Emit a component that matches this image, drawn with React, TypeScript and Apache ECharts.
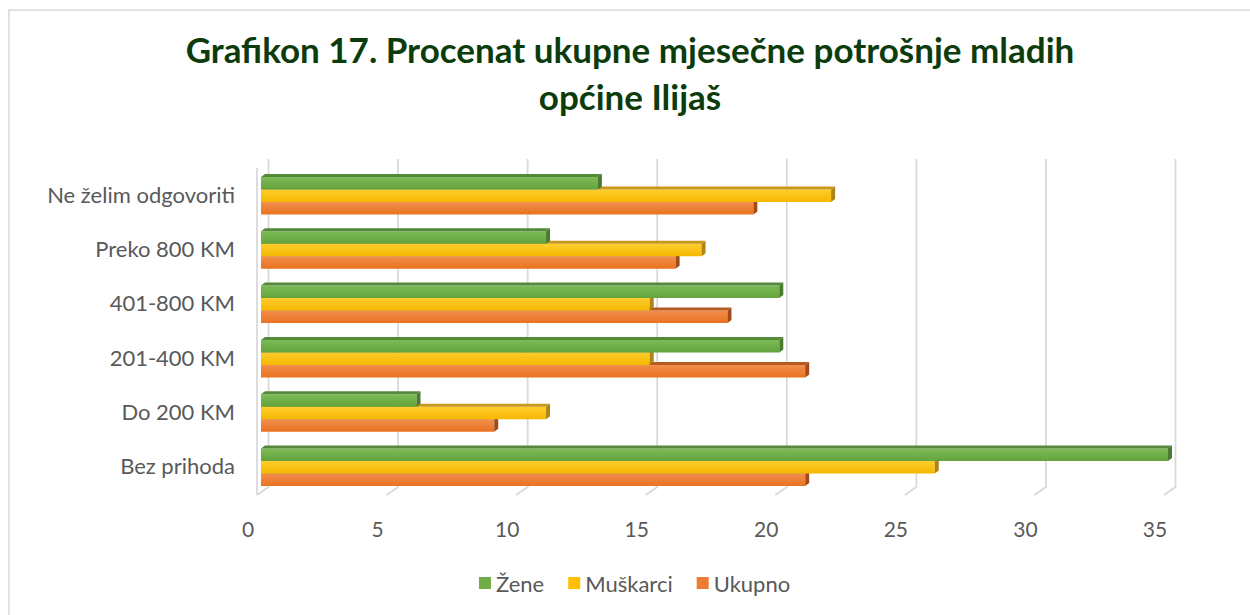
import React, { useEffect, useRef } from "react";
import * as echarts from "echarts";

const categories = ["Bez prihoda", "Do 200 KM", "201-400 KM", "401-800 KM", "Preko 800 KM", "Ne želim odgovoriti"];
const zene = [35, 6, 20, 20, 11, 13];
const muskarci = [26, 11, 15, 15, 17, 22];
const ukupno = [21, 9, 21, 18, 16, 19];
const xTicks = [0, 5, 10, 15, 20, 25, 30, 35];
const seriesNames = ["Žene", "Muškarci", "Ukupno"];

const FONT = "Lato, 'Open Sans', sans-serif";
const BW = 12.5;
const DX = 4;
const DY = 3;

type Palette = { top: string; bottom: string; cap: string; side: string; base: string };
const palettes: Palette[] = [
  { top: "#7dbb57", bottom: "#64a23c", cap: "#55893a", side: "#4b7b30", base: "#70ad47" },
  { top: "#ffcd2e", bottom: "#f5b800", cap: "#c8981c", side: "#ae8414", base: "#ffc000" },
  { top: "#f28e4e", bottom: "#e8731f", cap: "#b65a20", side: "#a04c18", base: "#ed7d31" },
];

function makeBarSeries(name: string, values: number[], idx: number, offset: number) {
  const p = palettes[idx];
  return {
    type: "custom",
    name,
    z: 3,
    itemStyle: { color: p.base },
    data: values.map((v, i) => [v, i]),
    encode: { x: 0, y: 1 },
    renderItem: (params: any, api: any) => {
      const v = api.value(0);
      const cat = api.value(1);
      const start = api.coord([0, cat]);
      const end = api.coord([v, cat]);
      const x0 = start[0];
      const x1 = end[0];
      const yTop = start[1] + offset * BW - BW / 2 + 1.5;
      return {
        type: "group",
        children: [
          {
            type: "rect",
            shape: { x: x0, y: yTop, width: x1 - x0, height: BW },
            style: {
              fill: new echarts.graphic.LinearGradient(0, 0, 0, 1, [
                { offset: 0, color: p.top },
                { offset: 1, color: p.bottom },
              ]),
            },
          },
          {
            type: "polygon",
            shape: { points: [[x0, yTop], [x1, yTop], [x1 + DX, yTop - DY], [x0 + DX, yTop - DY]] },
            style: { fill: p.cap },
          },
          {
            type: "polygon",
            shape: { points: [[x1, yTop], [x1 + DX, yTop - DY], [x1 + DX, yTop + BW - DY], [x1, yTop + BW]] },
            style: { fill: p.side },
          },
        ],
      };
    },
  };
}

export default function App() {
  const ref = useRef<HTMLDivElement>(null);
  useEffect(() => {
    if (!ref.current) return;
    const chart = echarts.init(ref.current, null, { renderer: "svg" });
    const gridSeries = {
      type: "custom",
      name: "grid",
      z: 1,
      silent: true,
      data: xTicks.map((t) => [t, 0]),
      encode: { x: 0, y: 1 },
      renderItem: (params: any, api: any) => {
        const cs = params.coordSys;
        const x = api.coord([api.value(0), 0])[0];
        const topY = cs.y - 8;
        const backBottom = cs.y + cs.height - 6;
        const frontBottom = cs.y + cs.height + 2;
        const children: any[] = [
          {
            type: "polyline",
            shape: { points: [[x + 7.5, topY], [x + 7.5, backBottom], [x - 4, frontBottom]] },
            style: { stroke: "#d9d9d9", lineWidth: 1.75, fill: "none" },
          },
        ];
        if (api.value(0) === 0) {
          children.push({
            type: "line",
            shape: { x1: x - 4, y1: cs.y + 1, x2: x - 4, y2: frontBottom },
            style: { stroke: "#d9d9d9", lineWidth: 1.75 },
          });
        }
        return { type: "group", children };
      },
    };
    chart.setOption({
      animation: false,
      backgroundColor: "#ffffff",
      title: {
        text: "Grafikon 17. Procenat ukupne mjesečne potrošnje mladih\nopćine Ilijaš",
        left: 625,
        top: 20,
        textAlign: "center",
        textStyle: {
          fontFamily: FONT,
          fontSize: 35,
          fontWeight: "bold",
          color: "#0c3c0c",
          lineHeight: 47,
        },
      },
      graphic: [
        {
          type: "rect",
          shape: { x: 9, y: 10, width: 1300, height: 700 },
          style: { fill: "none", stroke: "#d9d9d9", lineWidth: 1.5 },
          silent: true,
          z: -1,
        },
      ],
      legend: {
        data: seriesNames,
        bottom: 16,
        left: 474,
        icon: "rect",
        itemWidth: 12,
        itemHeight: 12,
        itemGap: 24,
        textStyle: { fontFamily: FONT, fontSize: 22, color: "#595959" },
      },
      grid: { left: 261, right: 82, top: 167, height: 326, containLabel: false },
      xAxis: {
        type: "value",
        min: 0,
        max: 35,
        interval: 5,
        axisLine: { show: false },
        axisTick: { show: false },
        splitLine: { show: false },
        axisLabel: {
          fontFamily: FONT,
          fontSize: 21,
          color: "#595959",
          margin: 25,
          padding: [0, 26, 0, 0],
        },
      },
      yAxis: {
        type: "category",
        data: categories,
        axisLine: { show: false },
        axisTick: { show: false },
        splitLine: { show: false },
        axisLabel: {
          fontFamily: FONT,
          fontSize: 22,
          color: "#595959",
          margin: 26,
          padding: [9, 0, 0, 0],
        },
      },
      series: [
        gridSeries,
        makeBarSeries(seriesNames[2], ukupno, 2, 1),
        makeBarSeries(seriesNames[1], muskarci, 1, 0),
        makeBarSeries(seriesNames[0], zene, 0, -1),
      ],
    });
    return () => chart.dispose();
  }, []);
  return (
    <div
      ref={ref}
      style={{ position: "fixed", left: 0, top: 0, width: 1250, height: 615 }}
    />
  );
}
